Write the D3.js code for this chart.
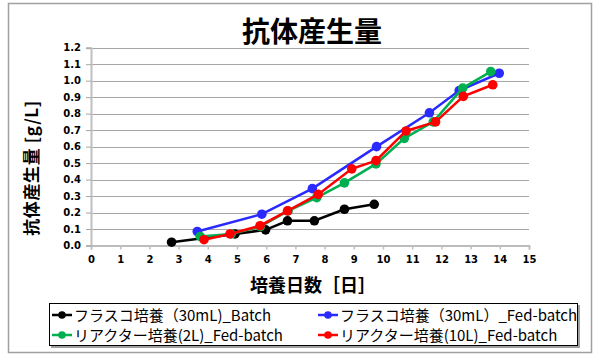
<!DOCTYPE html>
<html><head><meta charset="utf-8">
<script src="https://cdn.jsdelivr.net/npm/d3@7"></script>
<style>body{margin:0;background:#fff}svg{display:block}</style>
</head><body>
<svg id="c" width="600" height="360"></svg>
<script>
const seriesNames = ["フラスコ培養（30mL)_Batch", "フラスコ培養（30mL）_Fed-batch", "リアクター培養(2L)_Fed-batch", "リアクター培養(10L)_Fed-batch"];
const seriesColors = ["#000000", "#2a2aff", "#00b050", "#ff0000"];
const flaskBatchDays = [2.76, 4.93, 5.98, 6.73, 7.65, 8.68, 9.70];
const flaskBatchVals = [0.02, 0.07, 0.095, 0.15, 0.15, 0.22, 0.25];
const flaskFedDays = [3.64, 5.85, 7.58, 9.78, 11.59, 12.61, 13.98];
const flaskFedVals = [0.085, 0.19, 0.345, 0.60, 0.805, 0.94, 1.045];
const reactor2Days = [3.74, 4.80, 5.80, 6.75, 7.73, 8.68, 9.76, 10.73, 11.72, 12.73, 13.69];
const reactor2Vals = [0.055, 0.07, 0.115, 0.21, 0.29, 0.38, 0.495, 0.65, 0.75, 0.955, 1.055];
const reactor10Days = [3.87, 4.76, 5.79, 6.73, 7.78, 8.93, 9.76, 10.79, 11.80, 12.75, 13.76];
const reactor10Vals = [0.035, 0.07, 0.12, 0.21, 0.31, 0.465, 0.515, 0.695, 0.75, 0.905, 0.975];
const xTicks = [0,1,2,3,4,5,6,7,8,9,10,11,12,13,14,15];
const yTicks = [0,0.1,0.2,0.3,0.4,0.5,0.6,0.7,0.8,0.9,1.0,1.1,1.2];
const titleText = "抗体産生量";
const xLabel = "培養日数［日］";
const yLabel = "抗体産生量 [g/L]";

const series = [
  {days: flaskBatchDays, vals: flaskBatchVals},
  {days: flaskFedDays, vals: flaskFedVals},
  {days: reactor2Days, vals: reactor2Vals},
  {days: reactor10Days, vals: reactor10Vals}
].map((s,i)=>({name: seriesNames[i], color: seriesColors[i], pts: s.days.map((d,j)=>[d, s.vals[j]])}));

const svg = d3.select("#c");
const latin = "'DejaVu Sans', 'Noto Sans CJK JP', sans-serif";
const cjk = "'Noto Sans CJK JP', sans-serif";

svg.append("rect").attr("x",8.5).attr("y",3.5).attr("width",583).attr("height",349)
  .attr("fill","#fff").attr("stroke","#a0a0a0").attr("stroke-width",1.5);

const x = d3.scaleLinear().domain([0,15]).range([91,529]);
const y = d3.scaleLinear().domain([0,1.2]).range([245.5,47.7]);

// grid
svg.append("g").selectAll("line").data(yTicks.slice(1)).join("line")
  .attr("x1",x(0)).attr("x2",x(15)).attr("y1",d=>Math.round(y(d))+0.5).attr("y2",d=>Math.round(y(d))+0.5)
  .attr("stroke","#a6a6a6").attr("stroke-width",1);

// y axis
const yAxis = svg.append("g").attr("transform",`translate(${x(0)},0)`)
  .call(d3.axisLeft(y).tickValues(yTicks).tickFormat(d3.format(".1f")).tickSize(5).tickPadding(5));
yAxis.select(".domain").attr("stroke","#bfbfbf").attr("stroke-width",2);
yAxis.selectAll(".tick line").attr("stroke","#a6a6a6");
yAxis.selectAll("text").attr("font-family",latin).attr("font-size",10).attr("font-weight","bold").attr("fill","#000");

// x axis
const xAxis = svg.append("g").attr("transform",`translate(0,${y(0)})`)
  .call(d3.axisBottom(x).tickValues(xTicks).tickFormat(d3.format("d")).tickSize(4).tickPadding(6));
xAxis.select(".domain").attr("stroke","#a6a6a6").attr("stroke-width",1.5);
xAxis.selectAll(".tick line").attr("stroke","#bfbfbf").attr("stroke-width",1.5);
xAxis.selectAll("text").attr("font-family",latin).attr("font-size",10).attr("font-weight","bold").attr("fill","#000");

// series
const line = d3.line().x(d=>x(d[0])).y(d=>y(d[1]));
series.forEach(s=>{
  const g = svg.append("g");
  g.append("path").attr("d",line(s.pts)).attr("fill","none").attr("stroke",s.color).attr("stroke-width",2.5);
  g.selectAll("circle").data(s.pts).join("circle").attr("cx",d=>x(d[0])).attr("cy",d=>y(d[1])).attr("r",4.8).attr("fill",s.color);
});

// title
svg.append("text").attr("x",312).attr("y",42).attr("text-anchor","middle")
  .attr("font-family",cjk).attr("font-size",28).attr("font-weight","bold").text(titleText);

// axis titles
svg.append("text").attr("x",313).attr("y",292).attr("text-anchor","middle")
  .attr("font-family",cjk).attr("font-size",18).attr("font-weight","bold").text(xLabel);
svg.append("text").attr("transform","translate(38,168) rotate(-90)").attr("text-anchor","middle")
  .attr("font-family",cjk).attr("font-size",17).attr("font-weight","bold").attr("letter-spacing",0.6).text(yLabel);

// legend
svg.append("rect").attr("x",51).attr("y",305).attr("width",529).attr("height",43).attr("fill","#a0a0a0");
svg.append("rect").attr("x",49.5).attr("y",303.5).attr("width",528).attr("height",42).attr("fill","#fff").attr("stroke","#000").attr("stroke-width",1);
const legPos = [[52,315],[318,315],[52,335],[318,335]];
series.forEach((s,i)=>{
  const [lx,ly] = legPos[i];
  const g = svg.append("g").attr("transform",`translate(${lx},${ly})`);
  g.append("line").attr("x1",0).attr("x2",20).attr("y1",0).attr("y2",0).attr("stroke",s.color).attr("stroke-width",2.5);
  g.append("circle").attr("cx",10).attr("cy",0).attr("r",3.8).attr("fill",s.color);
  g.append("text").attr("x",22).attr("y",5.5).attr("font-family",cjk).attr("font-size",15).attr("fill","#000").text(s.name);
});
</script>
</body></html>
